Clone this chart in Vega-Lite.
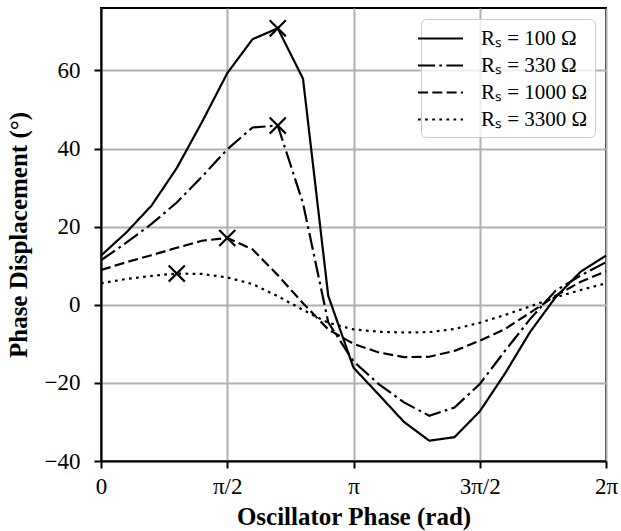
{
  "$schema": "https://vega.github.io/schema/vega-lite/v6.json",
  "width": 505,
  "height": 453,
  "autosize": {"type": "none"},
  "padding": {"left": 101, "top": 8, "right": 15, "bottom": 70},
  "background": "white",
  "config": {
    "font": "Liberation Serif",
    "view": {"stroke": "black", "strokeWidth": 2},
    "axis": {
      "labelFont": "Liberation Serif",
      "labelFontSize": 23,
      "labelColor": "black",
      "titleFont": "Liberation Serif",
      "titleFontSize": 25,
      "titleFontWeight": "bold",
      "titleColor": "black",
      "tickColor": "black",
      "tickWidth": 2,
      "tickSize": 7,
      "domainColor": "black",
      "domainWidth": 2,
      "gridColor": "#b0b0b0",
      "gridWidth": 2,
      "gridOpacity": 1
    }
  },
  "data": {
    "values": [
      {"series": "Rₛ = 100 Ω", "phase": 0, "disp": 12.6, "peak": false},
      {"series": "Rₛ = 100 Ω", "phase": 0.3142, "disp": 18.5, "peak": false},
      {"series": "Rₛ = 100 Ω", "phase": 0.6283, "disp": 25.4, "peak": false},
      {"series": "Rₛ = 100 Ω", "phase": 0.9425, "disp": 35.0, "peak": false},
      {"series": "Rₛ = 100 Ω", "phase": 1.2566, "disp": 46.8, "peak": false},
      {"series": "Rₛ = 100 Ω", "phase": 1.5708, "disp": 59.3, "peak": false},
      {"series": "Rₛ = 100 Ω", "phase": 1.885, "disp": 68.0, "peak": false},
      {"series": "Rₛ = 100 Ω", "phase": 2.1991, "disp": 70.8, "peak": true},
      {"series": "Rₛ = 100 Ω", "phase": 2.5133, "disp": 57.9, "peak": false},
      {"series": "Rₛ = 100 Ω", "phase": 2.8274, "disp": 2.3, "peak": false},
      {"series": "Rₛ = 100 Ω", "phase": 3.1416, "disp": -16.1, "peak": false},
      {"series": "Rₛ = 100 Ω", "phase": 3.4558, "disp": -23.0, "peak": false},
      {"series": "Rₛ = 100 Ω", "phase": 3.7699, "disp": -30.0, "peak": false},
      {"series": "Rₛ = 100 Ω", "phase": 4.0841, "disp": -34.8, "peak": false},
      {"series": "Rₛ = 100 Ω", "phase": 4.3982, "disp": -33.9, "peak": false},
      {"series": "Rₛ = 100 Ω", "phase": 4.7124, "disp": -27.3, "peak": false},
      {"series": "Rₛ = 100 Ω", "phase": 5.0265, "disp": -17.6, "peak": false},
      {"series": "Rₛ = 100 Ω", "phase": 5.3407, "disp": -6.9, "peak": false},
      {"series": "Rₛ = 100 Ω", "phase": 5.6549, "disp": 1.9, "peak": false},
      {"series": "Rₛ = 100 Ω", "phase": 5.969, "disp": 8.5, "peak": false},
      {"series": "Rₛ = 100 Ω", "phase": 6.2832, "disp": 12.6, "peak": false},

      {"series": "Rₛ = 330 Ω", "phase": 0, "disp": 11.4, "peak": false},
      {"series": "Rₛ = 330 Ω", "phase": 0.3142, "disp": 15.9, "peak": false},
      {"series": "Rₛ = 330 Ω", "phase": 0.6283, "disp": 20.7, "peak": false},
      {"series": "Rₛ = 330 Ω", "phase": 0.9425, "disp": 26.2, "peak": false},
      {"series": "Rₛ = 330 Ω", "phase": 1.2566, "disp": 32.8, "peak": false},
      {"series": "Rₛ = 330 Ω", "phase": 1.5708, "disp": 39.8, "peak": false},
      {"series": "Rₛ = 330 Ω", "phase": 1.885, "disp": 45.4, "peak": false},
      {"series": "Rₛ = 330 Ω", "phase": 2.1991, "disp": 45.9, "peak": true},
      {"series": "Rₛ = 330 Ω", "phase": 2.5133, "disp": 26.0, "peak": false},
      {"series": "Rₛ = 330 Ω", "phase": 2.8274, "disp": -4.5, "peak": false},
      {"series": "Rₛ = 330 Ω", "phase": 3.1416, "disp": -14.5, "peak": false},
      {"series": "Rₛ = 330 Ω", "phase": 3.4558, "disp": -20.3, "peak": false},
      {"series": "Rₛ = 330 Ω", "phase": 3.7699, "disp": -25.0, "peak": false},
      {"series": "Rₛ = 330 Ω", "phase": 4.0841, "disp": -28.4, "peak": false},
      {"series": "Rₛ = 330 Ω", "phase": 4.3982, "disp": -26.3, "peak": false},
      {"series": "Rₛ = 330 Ω", "phase": 4.7124, "disp": -20.3, "peak": false},
      {"series": "Rₛ = 330 Ω", "phase": 5.0265, "disp": -11.8, "peak": false},
      {"series": "Rₛ = 330 Ω", "phase": 5.3407, "disp": -3.6, "peak": false},
      {"series": "Rₛ = 330 Ω", "phase": 5.6549, "disp": 3.6, "peak": false},
      {"series": "Rₛ = 330 Ω", "phase": 5.969, "disp": 7.5, "peak": false},
      {"series": "Rₛ = 330 Ω", "phase": 6.2832, "disp": 10.9, "peak": false},

      {"series": "Rₛ = 1000 Ω", "phase": 0, "disp": 8.9, "peak": false},
      {"series": "Rₛ = 1000 Ω", "phase": 0.3142, "disp": 10.9, "peak": false},
      {"series": "Rₛ = 1000 Ω", "phase": 0.6283, "disp": 12.7, "peak": false},
      {"series": "Rₛ = 1000 Ω", "phase": 0.9425, "disp": 14.6, "peak": false},
      {"series": "Rₛ = 1000 Ω", "phase": 1.2566, "disp": 16.4, "peak": false},
      {"series": "Rₛ = 1000 Ω", "phase": 1.5708, "disp": 17.1, "peak": true},
      {"series": "Rₛ = 1000 Ω", "phase": 1.885, "disp": 14.2, "peak": false},
      {"series": "Rₛ = 1000 Ω", "phase": 2.1991, "disp": 7.6, "peak": false},
      {"series": "Rₛ = 1000 Ω", "phase": 2.5133, "disp": 0.4, "peak": false},
      {"series": "Rₛ = 1000 Ω", "phase": 2.8274, "disp": -6.3, "peak": false},
      {"series": "Rₛ = 1000 Ω", "phase": 3.1416, "disp": -10.0, "peak": false},
      {"series": "Rₛ = 1000 Ω", "phase": 3.4558, "disp": -12.2, "peak": false},
      {"series": "Rₛ = 1000 Ω", "phase": 3.7699, "disp": -13.4, "peak": false},
      {"series": "Rₛ = 1000 Ω", "phase": 4.0841, "disp": -13.3, "peak": false},
      {"series": "Rₛ = 1000 Ω", "phase": 4.3982, "disp": -11.8, "peak": false},
      {"series": "Rₛ = 1000 Ω", "phase": 4.7124, "disp": -9.2, "peak": false},
      {"series": "Rₛ = 1000 Ω", "phase": 5.0265, "disp": -6.2, "peak": false},
      {"series": "Rₛ = 1000 Ω", "phase": 5.3407, "disp": -2.0, "peak": false},
      {"series": "Rₛ = 1000 Ω", "phase": 5.6549, "disp": 2.3, "peak": false},
      {"series": "Rₛ = 1000 Ω", "phase": 5.969, "disp": 5.9, "peak": false},
      {"series": "Rₛ = 1000 Ω", "phase": 6.2832, "disp": 8.6, "peak": false},

      {"series": "Rₛ = 3300 Ω", "phase": 0, "disp": 5.5, "peak": false},
      {"series": "Rₛ = 3300 Ω", "phase": 0.3142, "disp": 6.6, "peak": false},
      {"series": "Rₛ = 3300 Ω", "phase": 0.6283, "disp": 7.4, "peak": false},
      {"series": "Rₛ = 3300 Ω", "phase": 0.9425, "disp": 8.0, "peak": true},
      {"series": "Rₛ = 3300 Ω", "phase": 1.2566, "disp": 7.9, "peak": false},
      {"series": "Rₛ = 3300 Ω", "phase": 1.5708, "disp": 7.0, "peak": false},
      {"series": "Rₛ = 3300 Ω", "phase": 1.885, "disp": 5.3, "peak": false},
      {"series": "Rₛ = 3300 Ω", "phase": 2.1991, "disp": 2.2, "peak": false},
      {"series": "Rₛ = 3300 Ω", "phase": 2.5133, "disp": -1.3, "peak": false},
      {"series": "Rₛ = 3300 Ω", "phase": 2.8274, "disp": -4.6, "peak": false},
      {"series": "Rₛ = 3300 Ω", "phase": 3.1416, "disp": -6.3, "peak": false},
      {"series": "Rₛ = 3300 Ω", "phase": 3.4558, "disp": -6.9, "peak": false},
      {"series": "Rₛ = 3300 Ω", "phase": 3.7699, "disp": -7.1, "peak": false},
      {"series": "Rₛ = 3300 Ω", "phase": 4.0841, "disp": -7.0, "peak": false},
      {"series": "Rₛ = 3300 Ω", "phase": 4.3982, "disp": -6.2, "peak": false},
      {"series": "Rₛ = 3300 Ω", "phase": 4.7124, "disp": -4.6, "peak": false},
      {"series": "Rₛ = 3300 Ω", "phase": 5.0265, "disp": -2.6, "peak": false},
      {"series": "Rₛ = 3300 Ω", "phase": 5.3407, "disp": -0.4, "peak": false},
      {"series": "Rₛ = 3300 Ω", "phase": 5.6549, "disp": 1.9, "peak": false},
      {"series": "Rₛ = 3300 Ω", "phase": 5.969, "disp": 3.8, "peak": false},
      {"series": "Rₛ = 3300 Ω", "phase": 6.2832, "disp": 5.5, "peak": false}
    ]
  },
  "encoding": {
    "x": {
      "field": "phase",
      "type": "quantitative",
      "scale": {"domain": [0, 6.283185307], "nice": false, "zero": false},
      "axis": {
        "values": [0, 1.5707963, 3.1415927, 4.712389, 6.2831853],
        "labelExpr": "['0','π/2','π','3π/2','2π'][round(datum.value*2/PI)]",
        "title": "Oscillator Phase (rad)",
        "labelPadding": 7,
        "titlePadding": 6,
        "labelFlush": false
      }
    },
    "y": {
      "field": "disp",
      "type": "quantitative",
      "scale": {"domain": [-40, 76], "nice": false, "zero": false},
      "axis": {
        "values": [-40, -20, 0, 20, 40, 60],
        "title": "Phase Displacement (°)",
        "labelPadding": 14,
        "titlePadding": 13
      }
    }
  },
  "layer": [
    {
      "mark": {"type": "line", "color": "black", "strokeWidth": 2.2},
      "encoding": {
        "strokeDash": {
          "field": "series",
          "type": "nominal",
          "scale": {
            "domain": ["Rₛ = 100 Ω", "Rₛ = 330 Ω", "Rₛ = 1000 Ω", "Rₛ = 3300 Ω"],
            "range": [[1, 0], [17, 4.3, 2.7, 4.3], [10, 4.3], [2.7, 4.4]]
          },
          "legend": {
            "orient": "none",
            "legendX": 320,
            "legendY": 11,
            "title": null,
            "symbolType": "M-2,0L2,0",
            "symbolSize": 506,
            "symbolStrokeWidth": 2.2,
            "symbolStrokeColor": "black",
            "symbolFillColor": "transparent",
            "labelFont": "Liberation Serif",
            "labelFontSize": 21,
            "labelColor": "black",
            "labelOffset": 28,
            "rowPadding": 4,
            "fillColor": "rgba(255,255,255,0.8)",
            "strokeColor": "#cccccc",
            "cornerRadius": 5,
            "padding": 7
          }
        }
      }
    },
    {
      "transform": [{"filter": "datum.peak"}],
      "mark": {
        "type": "point",
        "shape": "M-1,-1L1,1M-1,1L1,-1",
        "size": 260,
        "filled": false,
        "color": "black",
        "strokeWidth": 2.2,
        "opacity": 1
      }
    }
  ]
}
